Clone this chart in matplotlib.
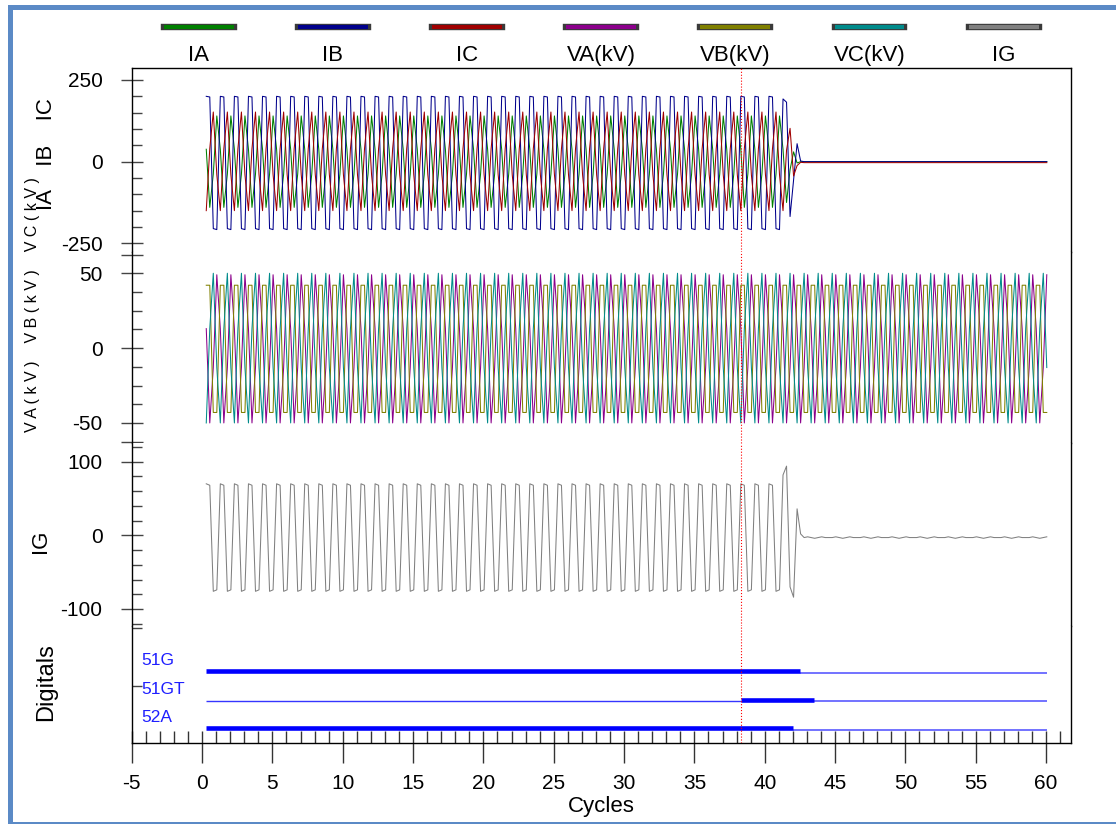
import numpy as np
import matplotlib
matplotlib.use('Agg')
import matplotlib.pyplot as plt
import matplotlib.patheffects as pe
from matplotlib.patches import Rectangle
from matplotlib.ticker import FixedLocator, MultipleLocator, FuncFormatter

plt.rcParams['font.family'] = ['Liberation Sans', 'DejaVu Sans']
plt.rcParams['axes.unicode_minus'] = False

# ---- event data (4 samples / cycle) ----
SAMPLES_PER_CYCLE = 4
first_sample = 0.3          # cycles
n_samples = 240
steady_cycles = 41          # fault current cycles before the breaker opens

names = ['IA', 'IB', 'IC', 'VA(kV)', 'VB(kV)', 'VC(kV)', 'IG']
colors = ['#008000', '#00008b', '#a00000', '#8b008b', '#808000', '#008b8b', '#808080']

# one cycle of samples per channel
ia_cycle = [38, -140, -38, 140]
ib_cycle = [200, 198, -205, -208]
ic_cycle = [-150, 40, 152, -40]
va_cycle = [13, -50, -13, 49]
vb_cycle = [42, 42, -43, -43]
vc_cycle = [-50, 13, 50, -13]
ig_cycle = [70, 68, -76, -74]

# samples while the breaker clears (from 41.3 cycles on)
ia_tail = [38, -125, -25, 30, -4, 0]
ib_tail = [192, 182, -168, -55, 55, 2]
ic_tail = [-150, 35, 102, -44, -12, -2]
ig_tail = [82, 94, -70, -84, 36, 2]

# after clearing
ia_rest = [0]
ib_rest = [0]
ic_rest = [-3]
ig_rest = [-3, -2, -3, -4, -3, -2, -3, -3]

digital_names = ['51G', '51GT', '52A']
digital_rows = [2, 1, 0]
digital_on = [(0.3, 42.5), (38.3, 43.5), (0.3, 42.0)]
digital_end = 60.05

cursor = 38.3


def channel(cycle, n_cycles, tail=(), rest=(0,)):
    steady = np.tile(cycle, n_cycles)
    body = np.concatenate([steady, np.asarray(tail, dtype=float)])
    return np.concatenate([body, np.resize(np.asarray(rest, dtype=float), n_samples - len(body))])


t = first_sample + np.arange(n_samples) / SAMPLES_PER_CYCLE
ia = channel(ia_cycle, steady_cycles, ia_tail, ia_rest)
ib = channel(ib_cycle, steady_cycles, ib_tail, ib_rest)
ic = channel(ic_cycle, steady_cycles, ic_tail, ic_rest)
va = channel(va_cycle, n_samples // SAMPLES_PER_CYCLE)
vb = channel(vb_cycle, n_samples // SAMPLES_PER_CYCLE)
vc = channel(vc_cycle, n_samples // SAMPLES_PER_CYCLE)
ig = channel(ig_cycle, steady_cycles, ig_tail, ig_rest)

# ---- layout ----
W, H = 1116, 824
fig = plt.figure(figsize=(W / 100, H / 100), dpi=100)
fig.patch.set_facecolor('white')

x0, x1 = 131.7, 1070.7
bounds = [68.3, 252, 443, 626, 743.3]


def fy(px):
    return 1 - px / H


axes = []
for i in range(4):
    ax = fig.add_axes([x0 / W, fy(bounds[i + 1]), (x1 - x0) / W, (bounds[i + 1] - bounds[i]) / H],
                      sharex=axes[0] if axes else None)
    for s in ax.spines.values():
        s.set_linewidth(1.0)
        s.set_color('black')
    ax.spines['top'].set_visible(i == 0)
    ax.spines['bottom'].set_visible(i == 3)
    ax.tick_params(axis='y', which='major', direction='inout', length=16, width=1,
                   color='#444444', labelsize=15, pad=13)
    ax.tick_params(axis='y', which='minor', direction='in', length=7, width=1, color='#444444')
    ax.tick_params(axis='x', which='both', bottom=False, labelbottom=False)
    ax.axvline(cursor, color='red', ls=':', lw=0.8, zorder=5)
    axes.append(ax)

ax_i, ax_v, ax_g, ax_d = axes
ax_i.set_xlim(-5, 61.75)

# currents
for y, c in zip([ia, ib, ic], colors[:3]):
    ax_i.plot(t, y, color=c, lw=0.75)
ax_i.set_ylim(-276.6, 285.8)
ax_i.yaxis.set_major_locator(FixedLocator([-250, 0, 250]))
ax_i.yaxis.set_minor_locator(MultipleLocator(50))

# voltages
for y, c in zip([va, vb, vc], colors[3:6]):
    ax_v.plot(t, y, color=c, lw=0.75)
ax_v.set_ylim(-63.4, 64.2)
ax_v.yaxis.set_major_locator(FixedLocator([-62.5, -50, 0, 50, 62.5]))
ax_v.yaxis.set_major_formatter(FuncFormatter(lambda v, p: '' if abs(v) > 60 else f'{v:g}'))
ax_v.yaxis.set_minor_locator(MultipleLocator(12.5))

# ground current
ax_g.plot(t, ig, color=colors[6], lw=0.75)
ax_g.set_ylim(-123.1, 125.4)
ax_g.yaxis.set_major_locator(FixedLocator([-100, 0, 100]))
ax_g.yaxis.set_minor_locator(MultipleLocator(20))

# digitals
ax_d.set_ylim(-0.463, 3.624)
ax_d.yaxis.set_major_locator(FixedLocator([]))
ax_d.yaxis.set_minor_locator(FixedLocator([1.544, 3.54]))
for name, row, (on0, on1) in zip(digital_names, digital_rows, digital_on):
    ax_d.hlines(row, first_sample, on0, color='#3535ff', lw=1.0)
    ax_d.hlines(row, on1, digital_end, color='#5a5aff', lw=1.2)
    ax_d.hlines(row + 0.055, on0, on1, color='#0000ff', lw=3.3)
    ax_d.text(-4.34, row + 0.42, name, color='#1f1fff', fontsize=12.5, ha='left', va='center')

ax_d.tick_params(axis='x', which='major', bottom=True, labelbottom=True, direction='out',
                 length=14.4, width=1, color='#333333', labelsize=15, pad=8)
ax_d.tick_params(axis='x', which='minor', bottom=True, direction='in', length=9, width=1,
                 color='#333333')
ax_d.xaxis.set_major_locator(MultipleLocator(5))
ax_d.xaxis.set_minor_locator(MultipleLocator(1))
ax_d.xaxis.remove_overlapping_locs = False
ax_d.set_xlabel('Cycles', fontsize=16, labelpad=2)

# y labels (positions in axes fractions from pixel estimates)
def label_coords(ax_index, px, py):
    top, bot = bounds[ax_index], bounds[ax_index + 1]
    return (px - x0) / (x1 - x0), (bot - py) / (bot - top)


lab = ax_i.set_ylabel('IA    IB    IC', fontsize=16)
lab.set_va('center')
ax_i.yaxis.set_label_coords(*label_coords(0, 46, 154))

lab = ax_v.set_ylabel('V A ( k V )    V B ( k V )    V C ( k V )', fontsize=11.5)
lab.set_va('center')
lab.set_ha('left')
ax_v.yaxis.set_label_coords(*label_coords(1, 32, 432))

lab = ax_g.set_ylabel('IG', fontsize=16)
lab.set_va('center')
ax_g.yaxis.set_label_coords(*label_coords(2, 40, 541))

lab = ax_d.set_ylabel('Digitals', fontsize=17)
lab.set_va('center')
ax_d.yaxis.set_label_coords(*label_coords(3, 46, 682))

# legend strip above the plot
ax_leg = fig.add_axes([x0 / W, fy(68), (x1 - x0) / W, (68 - 15) / H])
ax_leg.axis('off')
ax_leg.set_xlim(0, len(names))
ax_leg.set_ylim(0, 1)
for i, (name, c) in enumerate(zip(names, colors)):
    ax_leg.plot([i + 0.24, i + 0.76], [0.774, 0.774], color=c, lw=3, solid_capstyle='butt',
                path_effects=[pe.Stroke(linewidth=4.6, foreground='#3a3a3a', capstyle='projecting'),
                              pe.Normal()])
    ax_leg.text(i + 0.5, 0.245, name, ha='center', va='center', fontsize=16)

# window frame
fig.patches.append(Rectangle((10 / W, fy(823.5)), (1125 - 10) / W, (823.5 - 6.5) / H,
                             transform=fig.transFigure, fill=False, edgecolor='#5b8ac6',
                             linewidth=3.6, clip_on=False))

fig.savefig('out.png', dpi=100)
